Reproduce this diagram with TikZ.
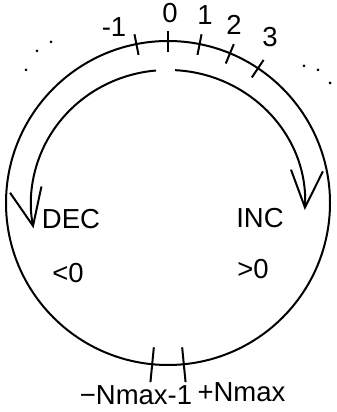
\documentclass[tikz,border=0pt]{standalone}
\usepackage{fontspec}
\setmainfont{Liberation Sans}
\usepackage{tikz}
\usetikzlibrary{arrows.meta}

\begin{document}
\begin{tikzpicture}[x=1pt, y=1pt,
    ring/.style={line width=2pt},
    tickline/.style={line width=2pt},
    turn/.style={line width=2pt, -{Straight Barb[length=37pt, width=32pt, line width=2pt]}},
    lbl/.style={inner sep=0pt, font=\fontsize{27.5}{32}\selectfont},
    dot/.style={circle, fill, inner sep=0pt, minimum size=3pt}
]
\useasboundingbox (0,0) rectangle (337,412);
\coordinate (c) at (168,209);

% counter ring
\draw[ring] (c) circle[radius=162];
\foreach \a in {101.25,90,78.75,67.5,56.25}
  \draw[tickline, shift={(c)}] (\a:151) -- (\a:172);
\foreach \a in {264.4,275.6}
  \draw[tickline, shift={(c)}] (\a:145) -- (\a:180);

% direction arcs
\draw[turn] ([shift={(95:137 and 133)}]c) arc[start angle=95, end angle=191, x radius=137, y radius=133];
\draw[turn] ([shift={(87:137 and 133)}]c) arc[start angle=87, end angle=-3, x radius=137, y radius=133];

% values
\node[lbl] (mone) at (114,385) {-1};
\node[lbl] (zero) at (170,398.5) {0};
\node[lbl] (one) at (205,397) {1};
\node[lbl] (two) at (234,387) {2};
\node[lbl] (three) at (270,375) {3};
\node[lbl] (dec) at (71,193) {DEC};
\node[lbl] (inc) at (260,194) {INC};
\node[lbl] (neg) at (68,139) {<0};
\node[lbl] (pos) at (253,143) {>0};
\node[lbl] (nmin) at (136,17) {−Nmax-1};
\node[lbl] (nmax) at (241.5,20) {+Nmax};

% continuation dots
\node[dot] (l1) at (26,342) {};
\node[dot] (l2) at (37,361) {};
\node[dot] (l3) at (51,370) {};
\node[dot] (r1) at (304,346) {};
\node[dot] (r2) at (318,342) {};
\node[dot] (r3) at (330,329) {};
\end{tikzpicture}
\end{document}
